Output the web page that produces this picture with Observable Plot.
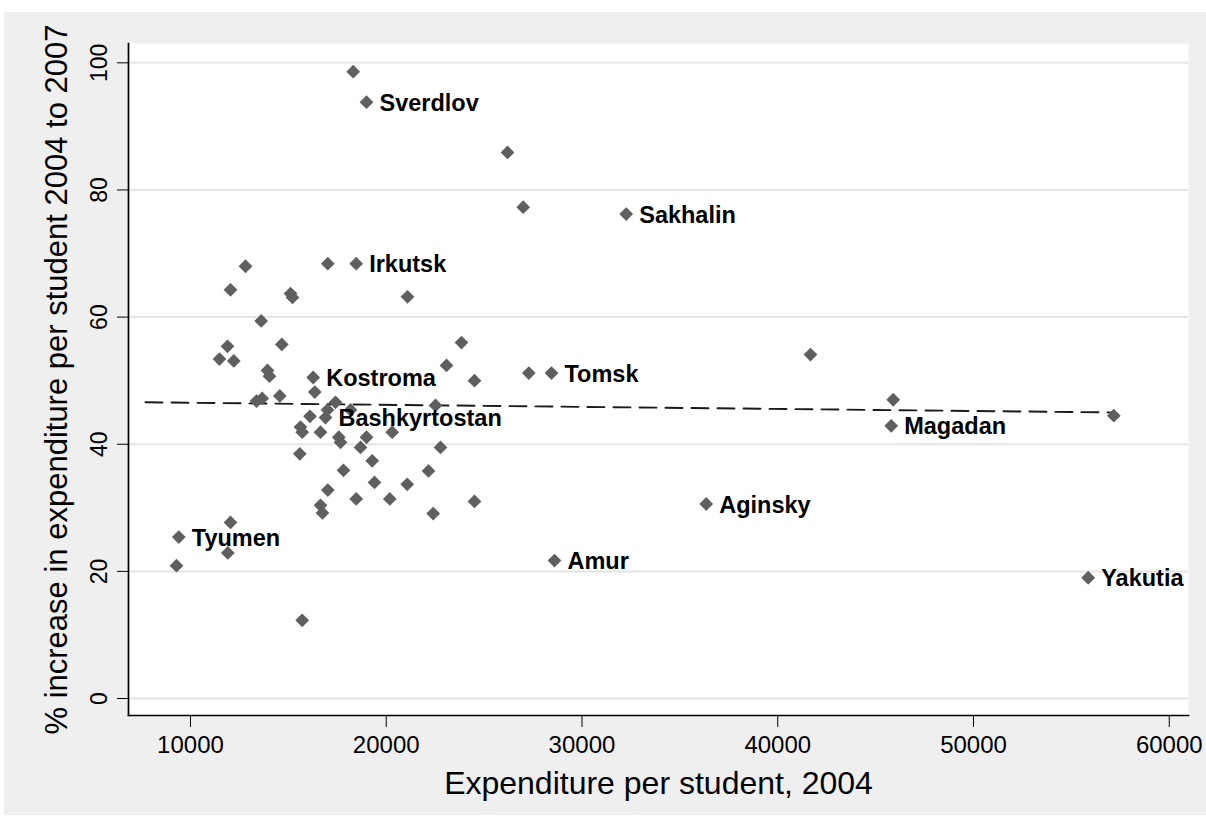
<!DOCTYPE html>
<html><head><meta charset="utf-8">
<script src="https://cdn.jsdelivr.net/npm/d3@7"></script>
<script src="https://cdn.jsdelivr.net/npm/@observablehq/plot@0.6"></script>
<style>
html,body{margin:0;padding:0;background:#fff;}
#chart{position:absolute;left:4px;top:12px;width:1202px;height:803px;background:#efefef;overflow:hidden;}
#chart svg{overflow:visible;}
g[aria-label="x-axis label"] text{font-size:32px;}
g[aria-label="y-axis label"] text{font-size:31px;}
</style></head><body><div id="chart"></div>
<script>
// Region names (empty = unlabeled)
const regions = ["Sverdlov","Sakhalin","Irkutsk","Kostroma","Tomsk","Bashkyrtostan","Magadan","Aginsky","Tyumen","Amur","Yakutia",
  "","","","","","","","","","","","","","","","","","","","","","","","","","","","","","","","","","","","","","","","","","","","","","","","","","","","","","","","","",""];
// Expenditure per student, 2004
const spend2004 = [18991,32258,18465,16268,28442,16897,45796,36345,9402,28595,55860,
  18312,26194,26996,12810,17014,12043,15109,15211,21086,13612,14664,11890,11481,12212,23844,23078,13934,14036,24508,16350,27282,41673,45898,57168,
  13372,13663,14562,17407,16999,18174,16105,15619,15706,16641,17576,17663,18991,18685,20304,22516,22772,15584,19282,17816,22158,19400,21070,17014,
  18465,20181,16641,16743,22399,24508,12043,11906,9285,15706,7701,27660,29106,29499,30945];
// % increase in expenditure per student 2004 to 2007
const pctIncrease = [93.8,76.2,68.4,50.5,51.2,44.2,42.9,30.6,25.4,21.7,19.0,
  98.6,85.9,77.3,68.0,68.4,64.3,63.7,63.1,63.2,59.4,55.7,55.4,53.4,53.1,56.0,52.4,51.6,50.7,50.0,48.2,51.2,54.1,47.0,44.5,
  46.8,47.2,47.6,46.6,45.4,45.4,44.4,42.7,41.9,41.9,41.1,40.3,41.1,39.5,41.9,46.1,39.5,38.5,37.4,35.9,35.8,34.0,33.7,32.8,
  31.4,31.4,30.4,29.2,29.1,31.0,27.7,22.9,20.9,12.3,8.6,37.3,31.3,44.0,27.2];
// Fitted line endpoints
const fitX = [7701, 57168];
const fitY = [46.6, 45.0];
const xTicks = [10000,20000,30000,40000,50000,60000];
const yTicks = [0,20,40,60,80,100];

const pts = regions.map((r,i)=>({name:r, x:spend2004[i], y:pctIncrease[i]}));
const fit = fitX.map((x,i)=>({x, y:fitY[i]}));

const font = "'Liberation Sans', Arial, sans-serif";
const chart = Plot.plot({
  width:1202, height:803,
  marginLeft:124, marginTop:31, marginRight:18, marginBottom:100,
  style:{background:"transparent", fontFamily:font, fontSize:"23px", color:"#000"},
  x:{domain:[6833,60983]},
  y:{domain:[-2.67,103.04]},
  marks:[
    Plot.frame({fill:"white", stroke:null}),
    Plot.gridY(yTicks, {stroke:"#e4e4e4", strokeOpacity:1, strokeWidth:2}),
    Plot.axisY(yTicks, {tickSize:11, tickPadding:11, tickRotate:-90, tickFormat:d3.format("d"),
      label:"% increase in expenditure per student 2004 to 2007", labelAnchor:"center", labelOffset:84, labelArrow:"none", fontSize:23}),
    Plot.axisX(xTicks, {tickSize:12, tickPadding:8, tickFormat:d3.format("d"),
      label:"Expenditure per student, 2004", labelAnchor:"center", labelOffset:78, labelArrow:"none", fontSize:24}),
    Plot.frame({anchor:"left", stroke:"#000", strokeWidth:1.7}),
    Plot.frame({anchor:"bottom", stroke:"#000", strokeWidth:1.7}),
    Plot.line(fit, {x:"x", y:"y", stroke:"#1a1a1a", strokeWidth:1.9, strokeDasharray:"17,9"}),
    Plot.dot(pts, {x:"x", y:"y", symbol:"diamond2", r:6.2, fill:"#5f5f5f", stroke:null}),
    Plot.text(pts.filter(d=>d.name), {x:"x", y:"y", text:"name", dx:13, dy:1, textAnchor:"start", fontSize:23.5, fontWeight:"bold", fill:"#000"})
  ]
});
document.getElementById("chart").appendChild(chart);
</script></body></html>
